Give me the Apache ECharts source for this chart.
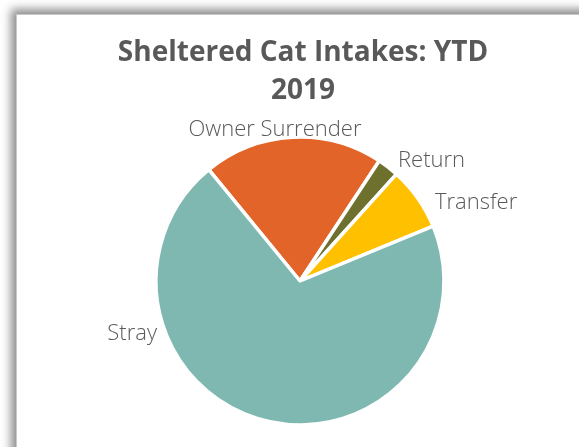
<!DOCTYPE html>
<html>
<head>
<meta charset="utf-8">
<script src="https://cdn.jsdelivr.net/npm/echarts@6/dist/echarts.min.js"></script>
<style>
    html, body { margin: 0; padding: 0; background: #fff; }
    body { width: 579px; height: 447px; position: relative; overflow: hidden; }
    #frame {
        position: absolute; left: 16px; top: 14px; width: 620px; height: 500px;
        background: #fff; border-left: 1px solid #c8c8c8; border-top: 1px solid #c8c8c8;
        box-shadow: -5px -5px 9px rgba(0, 0, 0, 0.45);
    }
    #myCharts { position: absolute; left: 0; top: 0; width: 579px; height: 447px; }
</style>
</head>
<body>
<div id="frame"></div>
<div id="myCharts"></div>
<script>
    // data (clockwise from Owner Surrender)
    const categories = ['Owner Surrender', 'Return', 'Transfer', 'Stray'];
    const intakes = [202, 24, 71, 703];
    const sliceColors = ['#e36428', '#6e712e', '#ffc000', '#7eb8b1'];
    // where the data labels sit (x, y, align) - "best fit" placement of the original
    const labelSpots = [
        [275, 130, 'center'],
        [398, 161, 'left'],
        [435, 203, 'left'],
        [157, 334, 'right']
    ];

    const myCharts = echarts.init(document.getElementById('myCharts'));
    let options = {
        animation: false,
        title: {
            text: 'Sheltered Cat Intakes: YTD\n2019',
            left: 298,
            top: 29,
            textAlign: 'center',
            textStyle: {
                fontFamily: 'Open Sans',
                fontWeight: 'bold',
                fontSize: 28,
                lineHeight: 38,
                color: '#595959'
            }
        },
        series: [
            {
                type: 'pie',
                center: [300, 281],
                radius: 144,
                startAngle: 129.3,
                clockwise: true,
                avoidLabelOverlap: false,
                itemStyle: {
                    borderColor: '#fff',
                    borderWidth: 3.5
                },
                label: {
                    position: 'outside',
                    fontFamily: 'Open Sans',
                    fontWeight: 300,
                    fontSize: 22,
                    color: '#595959',
                    formatter: '{b}'
                },
                labelLine: { show: false, length: 6, length2: 0 },
                labelLayout: function (params) {
                    const s = labelSpots[params.dataIndex];
                    return { x: s[0], y: s[1], align: s[2], verticalAlign: 'middle' };
                },
                data: categories.map((c, i) => ({
                    name: c,
                    value: intakes[i],
                    itemStyle: { color: sliceColors[i] }
                }))
            }
        ]
    };
    myCharts.setOption(options);
</script>
</body>
</html>
